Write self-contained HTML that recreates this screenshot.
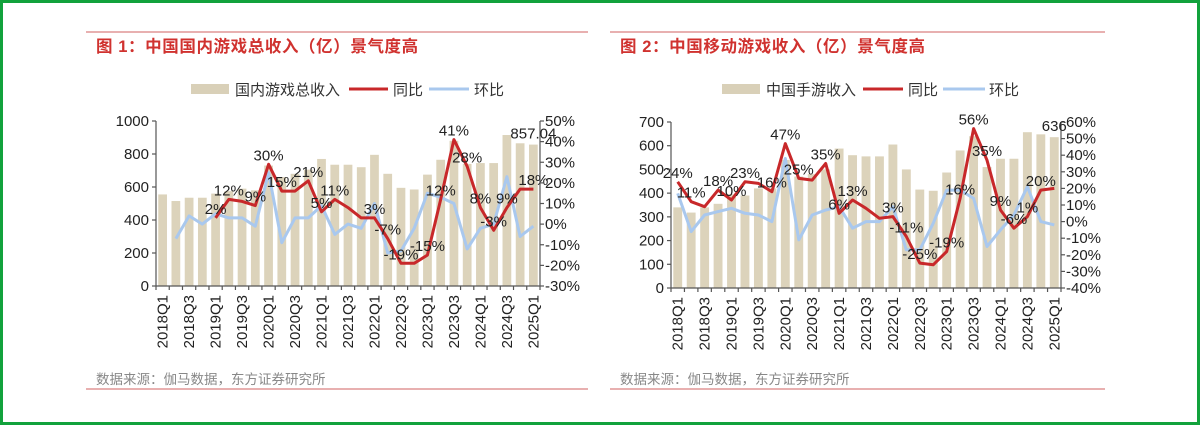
<!DOCTYPE html>
<html><head><meta charset="utf-8">
<style>
html,body{margin:0;padding:0;background:#fff;}
#wrap{position:relative;width:1200px;height:425px;box-sizing:border-box;border:3px solid #12a23c;background:#fff;overflow:hidden;}
svg{position:absolute;left:0;top:0;}
text{font-family:"Liberation Sans","Noto Sans CJK SC",sans-serif;}
</style></head>
<body>
<div id="wrap">
<svg id="s" width="1200" height="425" viewBox="0 0 1200 425">
  <line x1="83" y1="29" x2="585" y2="29" stroke="#d98080" stroke-width="1.2"/>
  <text x="93" y="49" font-size="16.5" font-weight="bold" fill="#d0322f" letter-spacing="0.6">图 1：中国国内游戏总收入（亿）景气度高</text>
  <line x1="83" y1="386" x2="585" y2="386" stroke="#d98080" stroke-width="1.2"/>
  <text x="93" y="381" font-size="13.5" fill="#888">数据来源：伽马数据，东方证券研究所</text>
  <rect x="188" y="81" width="38" height="10" fill="#d9d0b8"/>
  <text x="232" y="92" font-size="15" fill="#333">国内游戏总收入</text>
  <line x1="346" y1="86" x2="385" y2="86" stroke="#c8282a" stroke-width="3"/>
  <text x="390" y="92" font-size="15" fill="#333">同比</text>
  <line x1="426" y1="86" x2="466" y2="86" stroke="#a9c8ee" stroke-width="3"/>
  <text x="471" y="92" font-size="15" fill="#333">环比</text>

  <line x1="607" y1="29" x2="1102" y2="29" stroke="#d98080" stroke-width="1.2"/>
  <text x="617" y="49" font-size="16.5" font-weight="bold" fill="#d0322f" letter-spacing="0.6">图 2：中国移动游戏收入（亿）景气度高</text>
  <line x1="607" y1="386" x2="1102" y2="386" stroke="#d98080" stroke-width="1.2"/>
  <text x="617" y="381" font-size="13.5" fill="#888">数据来源：伽马数据，东方证券研究所</text>
  <rect x="719" y="81" width="38" height="10" fill="#d9d0b8"/>
  <text x="763" y="92" font-size="15" fill="#333">中国手游收入</text>
  <line x1="860" y1="86" x2="900" y2="86" stroke="#c8282a" stroke-width="3"/>
  <text x="905" y="92" font-size="15" fill="#333">同比</text>
  <line x1="940" y1="86" x2="982" y2="86" stroke="#a9c8ee" stroke-width="3"/>
  <text x="986" y="92" font-size="15" fill="#333">环比</text>
</svg>
</div>
<script>
const quarters = ["2018Q1","2018Q2","2018Q3","2018Q4","2019Q1","2019Q2","2019Q3","2019Q4","2020Q1","2020Q2","2020Q3","2020Q4","2021Q1","2021Q2","2021Q3","2021Q4","2022Q1","2022Q2","2022Q3","2022Q4","2023Q1","2023Q2","2023Q3","2023Q4","2024Q1","2024Q2","2024Q3","2024Q4","2025Q1"];
// Chart 1
const rev1 = [555,515,535,535,560,575,590,580,730,660,680,705,770,735,735,720,795,680,595,585,675,765,880,740,745,745,915,865,857];
const yoy1 = [null,null,null,null,3,12,11,9,29,16,16,21,6,12,8,3,3,-7,-19,-19,-15,12,41,28,8,-3,8,17,17];
const qoq1 = [null,-7,4,0,5,3,3,-1,25,-9,3,3,9,-5,0,-2,10,-14,-13,-2,15,13,10,-12,-2,0,23,-6,-1];
const lbl1 = ["","","","","2%","12%","","9%","30%","15%","","21%","5%","11%","","","3%","-7%","-19%","","-15%","12%","41%","28%","8%","-3%","9%","","18%"];
const left1Ticks = [0,200,400,600,800,1000];
const right1Ticks = [-30,-20,-10,0,10,20,30,40,50];
// Chart 2
const rev2 = [340,318,340,355,395,390,420,420,540,470,480,500,588,560,555,555,605,500,415,410,487,580,640,510,545,545,657,648,636];
const yoy2 = [24,12,9,19,13,24,23,18,47,26,25,35,5,13,8,2,3,-9,-25,-26,-18,14,56,37,7,-4,3,19,20];
const qoq2 = [17,-6,4,6,8,5,4,0,38,-11,4,7,9,-4,0,0,9,-17,-17,-1,19,19,14,-15,-5,4,21,0,-2];
const lbl2 = ["24%","11%","","18%","10%","23%","","16%","47%","25%","","35%","6%","13%","","","3%","-11%","-25%","","-19%","16%","56%","35%","9%","-6%","1%","20%",""];
const left2Ticks = [0,100,200,300,400,500,600,700];
const right2Ticks = [-40,-30,-20,-10,0,10,20,30,40,50,60];

const NS="http://www.w3.org/2000/svg";
const svg=document.getElementById('s');
function mk(tag,attrs,parent){const e=document.createElementNS(NS,tag);for(const k in attrs)e.setAttribute(k,attrs[k]);(parent||svg).appendChild(e);return e;}

function drawChart(cfg){
  const g=mk('g',{});
  
  
  const n=quarters.length, bw=(cfg.x1-cfg.x0)/n;
  const xc=i=>cfg.x0+(i+0.5)*bw;
  const yL=v=>cfg.y0-(v-cfg.lmin)/(cfg.lmax-cfg.lmin)*(cfg.y0-cfg.y1);
  const yR=v=>cfg.y0-(v-cfg.rmin)/(cfg.rmax-cfg.rmin)*(cfg.y0-cfg.y1);
  cfg.rev.forEach((v,i)=>{
    const r=mk('rect',{x:xc(i)-bw*0.33,y:yL(v),width:bw*0.66,height:cfg.y0-yL(v),fill:'#dcd3bb'},g);
    
    
  });
  function line(arr,color,nm){
    let d='';arr.forEach((v,i)=>{if(v==null)return;d+=(d?'L':'M')+xc(i).toFixed(1)+','+yR(v).toFixed(1);});
    const p=mk('path',{d:d,fill:'none',stroke:color,'stroke-width':3,'stroke-linejoin':'round'},g);
    
    
  }
  line(cfg.qoq,'#a9c8ee',cfg.name+'-qoq-line');
  line(cfg.yoy,'#c8282a',cfg.name+'-yoy-line');
  cfg.lbl.forEach((t,i)=>{
    if(!t||cfg.yoy[i]==null)return;
    const tx=mk('text',{x:xc(i),y:yR(cfg.yoy[i])-4,'font-size':15,fill:'#222','text-anchor':'middle'},g);
    tx.textContent=t;
    
    
  });
  const ax=mk('g',{stroke:'#555','stroke-width':1.2},g);
  
  
  mk('line',{x1:cfg.x0,y1:cfg.y1,x2:cfg.x0,y2:cfg.y0},ax);
  mk('line',{x1:cfg.x1,y1:cfg.y1,x2:cfg.x1,y2:cfg.y0},ax);
  mk('line',{x1:cfg.x0,y1:cfg.y0,x2:cfg.x1,y2:cfg.y0},ax);
  for(let i=0;i<=n;i++)mk('line',{x1:cfg.x0+i*bw,y1:cfg.y0,x2:cfg.x0+i*bw,y2:cfg.y0+4},ax);
  cfg.lt.forEach(v=>{
    mk('line',{x1:cfg.x0-4,y1:yL(v),x2:cfg.x0,y2:yL(v)},ax);
    const t=mk('text',{x:cfg.x0-7,y:yL(v)+5,'font-size':15,fill:'#222','text-anchor':'end'},g);
    t.textContent=v;
    
    
  });
  cfg.rt.forEach(v=>{
    mk('line',{x1:cfg.x1,y1:yR(v),x2:cfg.x1+4,y2:yR(v)},ax);
    const t=mk('text',{x:cfg.x1+5,y:yR(v)+5,'font-size':15,fill:'#222'},g);
    t.textContent=v+'%';
    
    
  });
  quarters.forEach((q,i)=>{
    if(i%2)return;
    const x=xc(i)+5,y=cfg.y0+9;
    const t=mk('text',{x:x,y:y,'font-size':15,fill:'#222','text-anchor':'end',transform:'rotate(-90 '+x+' '+y+')'},g);
    t.textContent=q;
    
    
  });
  const last=cfg.rev[n-1];
  const lt=mk('text',{x:xc(n-1),y:yL(last)-6,'font-size':15,fill:'#222','text-anchor':'middle'},g);
  lt.textContent=cfg.lastLabel;
  
  
}
drawChart({name:'chart1',x0:153,x1:537,y0:283,y1:118,lmin:0,lmax:1000,rmin:-30,rmax:50,rev:rev1,yoy:yoy1,qoq:qoq1,lbl:lbl1,lt:left1Ticks,rt:right1Ticks,lastLabel:'857.04'});
drawChart({name:'chart2',x0:668,x1:1058,y0:285,y1:119,lmin:0,lmax:700,rmin:-40,rmax:60,rev:rev2,yoy:yoy2,qoq:qoq2,lbl:lbl2,lt:left2Ticks,rt:right2Ticks,lastLabel:'636'});
</script>
</body></html>
